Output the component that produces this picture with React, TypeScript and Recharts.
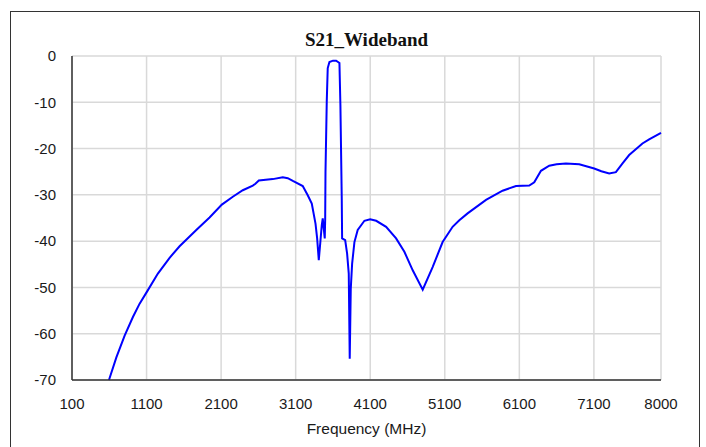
import { LineChart, Line, XAxis, YAxis, CartesianGrid } from "recharts";

const freqMHz = [
  596, 695, 806, 917, 1007, 1110, 1252, 1409, 1543, 1767, 1945, 2110, 2257, 2391, 2525, 2560,
  2606, 2793, 2927, 2994, 3062, 3195, 3262, 3316, 3366, 3388, 3410, 3433, 3450, 3463, 3477,
  3490, 3496, 3500, 3517, 3530, 3553, 3600, 3643, 3687, 3700, 3718, 3723, 3764, 3790, 3812,
  3825, 3839, 3857, 3888, 3932, 4022, 4099, 4180, 4313, 4447, 4558, 4670, 4804, 4937, 5071,
  5205, 5295, 5406, 5653, 5875, 6055, 6233, 6300, 6390, 6501, 6600, 6725, 6903, 7104, 7200,
  7305, 7395, 7484, 7573, 7751, 7841, 8000,
];

const s21dB = [
  -70, -65.1, -60.4, -56.4, -53.5, -50.8, -47.0, -43.6, -41.1, -37.6, -34.9, -32.1, -30.4, -29.0, -28.0, -27.6,
  -26.9, -26.6, -26.2, -26.4, -27.0, -28.1, -30.1, -31.9, -36.2, -39.4, -44.1, -39.8, -36.6, -35.1, -37.3,
  -39.4, -35.1, -25.0, -9.8, -2.6, -1.3, -1.0, -1.0, -1.5, -10.6, -30.8, -39.4, -39.8, -42.7, -47.0,
  -65.4, -50.3, -44.9, -40.2, -37.6, -35.6, -35.3, -35.6, -36.9, -39.4, -42.3, -46.3, -50.5, -45.6, -40.2,
  -36.9, -35.5, -34.0, -31.1, -29.1, -28.1, -28.0, -27.3, -24.8, -23.7, -23.4, -23.2, -23.4, -24.3, -24.9,
  -25.4, -25.1, -23.2, -21.4, -18.9, -18.0, -16.6,
];

const xTicks = [100, 1100, 2100, 3100, 4100, 5100, 6100, 7100, 8000];
const yTicks = [0, -10, -20, -30, -40, -50, -60, -70];

const data = freqMHz.map((f, i) => ({ f, s21: s21dB[i] }));

const tickFont = { fontFamily: "Liberation Sans, Arial, sans-serif", fontSize: 15, fill: "#1a1a1a" };

export default function App() {
  return (
    <div style={{ position: "absolute", left: 0, top: 0, width: 706, height: 447, background: "#fff", overflow: "hidden" }}>
      <div
        style={{
          position: "absolute",
          left: 10,
          top: 11,
          width: 690,
          height: 460,
          border: "1px solid #333",
          boxSizing: "border-box",
        }}
      />
      <div
        style={{
          position: "absolute",
          left: 72,
          width: 589,
          top: 28,
          textAlign: "center",
          fontFamily: "Liberation Serif, Times New Roman, serif",
          fontWeight: "bold",
          fontSize: 19,
          lineHeight: "24px",
          color: "#111",
        }}
      >
        S21_Wideband
      </div>
      <LineChart
        width={706}
        height={447}
        data={data}
        margin={{ top: 56, right: 45, left: 10, bottom: 11 }}
        style={{ position: "absolute", left: 0, top: 0 }}
      >
        <CartesianGrid stroke="#d9d9d9" strokeWidth={1.5} />
        <XAxis
          dataKey="f"
          type="number"
          domain={[100, 8000]}
          ticks={xTicks}
          interval={0}
          height={56}
          tickLine={false}
          tickSize={6}
          tickMargin={12}
          axisLine={{ stroke: "#333", strokeWidth: 1.5 }}
          tick={tickFont}
          label={{
            value: "Frequency (MHz)",
            position: "insideBottom",
            offset: 2,
            style: { ...tickFont, fontSize: 15.5 },
          }}
        />
        <XAxis
          xAxisId="top"
          orientation="top"
          dataKey="f"
          type="number"
          domain={[100, 8000]}
          height={0}
          tick={false}
          tickLine={false}
          axisLine={{ stroke: "#666", strokeWidth: 1.5 }}
        />
        <YAxis
          type="number"
          domain={[-70, 0]}
          ticks={yTicks}
          interval={0}
          width={62}
          tickLine={false}
          tickSize={6}
          tickMargin={10}
          axisLine={{ stroke: "#333", strokeWidth: 1.5 }}
          tick={tickFont}
        />
        <YAxis
          yAxisId="right"
          orientation="right"
          type="number"
          domain={[-70, 0]}
          width={0}
          tick={false}
          tickLine={false}
          axisLine={{ stroke: "#666", strokeWidth: 1.5 }}
        />
        <Line
          type="linear"
          dataKey="s21"
          stroke="#0000ff"
          strokeWidth={2}
          dot={false}
          isAnimationActive={false}
        />
      </LineChart>
    </div>
  );
}
